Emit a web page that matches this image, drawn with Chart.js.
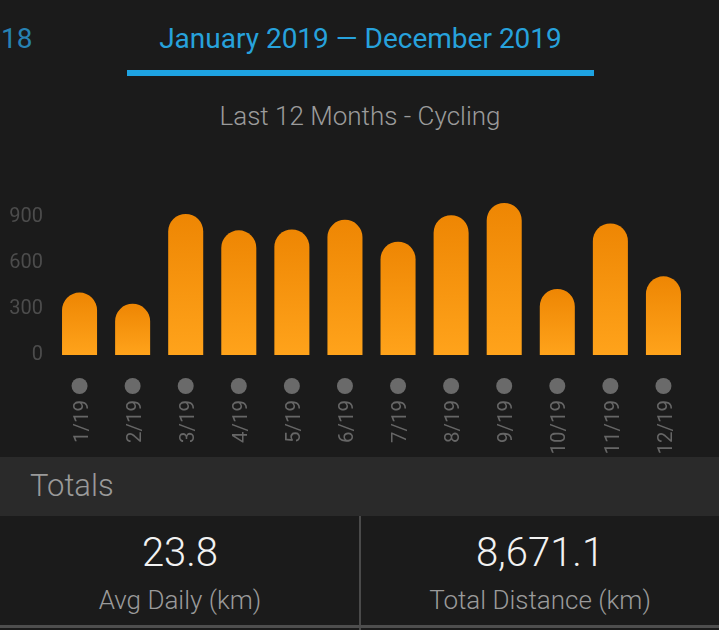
<!DOCTYPE html>
<html>
<head>
<meta charset="utf-8">
<script src="https://cdn.jsdelivr.net/npm/chart.js@4/dist/chart.umd.min.js"></script>
<style>
    html, body { margin: 0; padding: 0; }
    body {
        width: 719px; height: 630px; overflow: hidden; position: relative;
        background: #1b1b1b; font-family: Roboto, sans-serif;
    }
    .abs { position: absolute; white-space: nowrap; }
    #prev { left: 1px; top: 21px; font-size: 28px; color: #2782b3; line-height: 36px; }
    #range { left: 0; width: 721px; top: 21px; text-align: center; font-size: 28px; color: #27a2dc; line-height: 36px; }
    #underline { left: 127px; top: 70px; width: 467px; height: 6px; background: #1ea3e2; }
    #subtitle { left: 0; width: 720px; top: 100px; text-align: center; font-size: 26px; font-weight: 300; color: #9b9b9b; line-height: 32px; }
    #chartWrap { left: 0; top: 180px; width: 719px; height: 277px; }
    #totalsBar { left: 0; top: 457px; width: 719px; height: 59px; background: #2a2a2a; }
    #totalsBar span { position: absolute; left: 30px; top: 11px; font-size: 31px; font-weight: 300; color: #9a9a9a; line-height: 36px; }
    .cell { top: 516px; width: 360px; text-align: center; }
    .cell .val { font-size: 40px; font-weight: 300; color: #f2f2f2; line-height: 46px; margin-top: 14px; }
    .cell .lbl { font-size: 26px; font-weight: 300; color: #9a9a9a; line-height: 32px; margin-top: 8px; }
    #divider { left: 359px; top: 516px; width: 2px; height: 114px; background: #4a4a4a; }
    #bottomLine { left: 0; top: 625px; width: 719px; height: 3px; background: #4e4e4e; }
</style>
</head>
<body>
<div class="abs" id="prev">18</div>
<div class="abs" id="range">January 2019 — December 2019</div>
<div class="abs" id="underline"></div>
<div class="abs" id="subtitle">Last 12 Months - Cycling</div>
<div class="abs" id="chartWrap"><canvas id="chart"></canvas></div>
<div class="abs" id="totalsBar"><span>Totals</span></div>
<div class="abs cell" style="left:0"><div class="val" id="avg"></div><div class="lbl">Avg Daily (km)</div></div>
<div class="abs cell" style="left:360px"><div class="val" id="total"></div><div class="lbl">Total Distance (km)</div></div>
<div class="abs" id="divider"></div>
<div class="abs" id="bottomLine"></div>

<script>
const months = ['1/19', '2/19', '3/19', '4/19', '5/19', '6/19', '7/19', '8/19', '9/19', '10/19', '11/19', '12/19'];
const distances = [408, 335, 922, 815, 821, 884, 741, 914, 994, 432, 860, 514];
const yTicks = [0, 300, 600, 900];
const avgDaily = '23.8';
const totalDistance = '8,671.1';

document.getElementById('avg').textContent = avgDaily;
document.getElementById('total').textContent = totalDistance;

// grey dot under every month, drawn at the tick position of the x scale
const tickDots = {
    id: 'tickDots',
    afterDraw(chart) {
        const x = chart.scales.x;
        const c = chart.ctx;
        c.save();
        c.fillStyle = '#6a6a6a';
        x.ticks.forEach((t, i) => {
            c.beginPath();
            c.arc(x.getPixelForTick(i), chart.chartArea.bottom + 31, 8, 0, Math.PI * 2);
            c.fill();
        });
        c.restore();
    }
};

function barGradient(ctx) {
    const chart = ctx.chart;
    const area = chart.chartArea;
    if (!area || ctx.raw == null) return '#f5960f';
    const top = chart.scales.y.getPixelForValue(ctx.raw);
    const g = chart.ctx.createLinearGradient(0, top, 0, area.bottom);
    g.addColorStop(0, '#ee8603');
    g.addColorStop(1, '#ffa31b');
    return g;
}

new Chart(document.getElementById('chart'), {
    type: 'bar',
    data: {
        labels: months,
        datasets: [{
            data: distances,
            backgroundColor: barGradient,
            borderWidth: 0,
            borderRadius: { topLeft: 18, topRight: 18, bottomLeft: 0, bottomRight: 0 },
            borderSkipped: 'bottom',
            barPercentage: 0.66,
            categoryPercentage: 1,
        }]
    },
    options: {
        responsive: true,
        maintainAspectRatio: false,
        animation: false,
        layout: { padding: { top: 21, right: 29, left: 0, bottom: 0 } },
        plugins: { legend: { display: false }, tooltip: { enabled: false } },
        scales: {
            x: {
                grid: { display: false, drawTicks: false },
                border: { display: false },
                ticks: {
                    color: '#666666',
                    font: { family: 'Roboto', size: 20.5 },
                    minRotation: 90,
                    maxRotation: 90,
                    padding: 45,
                    labelOffset: 3,
                    autoSkip: false,
                },
                afterFit: s => { s.height = 102; s.paddingLeft = 0; s.paddingRight = 0; }
            },
            y: {
                min: 0,
                max: 1000,
                grid: { display: false, drawTicks: false },
                border: { display: false },
                afterBuildTicks: s => { s.ticks = yTicks.map(v => ({ value: v })); },
                ticks: {
                    color: '#4c4c4c',
                    font: { family: 'Roboto', size: 20 },
                    padding: 10,
                },
                afterFit: s => { s.width = 53; }
            }
        }
    },
    plugins: [tickDots]
});
</script>
</body>
</html>
